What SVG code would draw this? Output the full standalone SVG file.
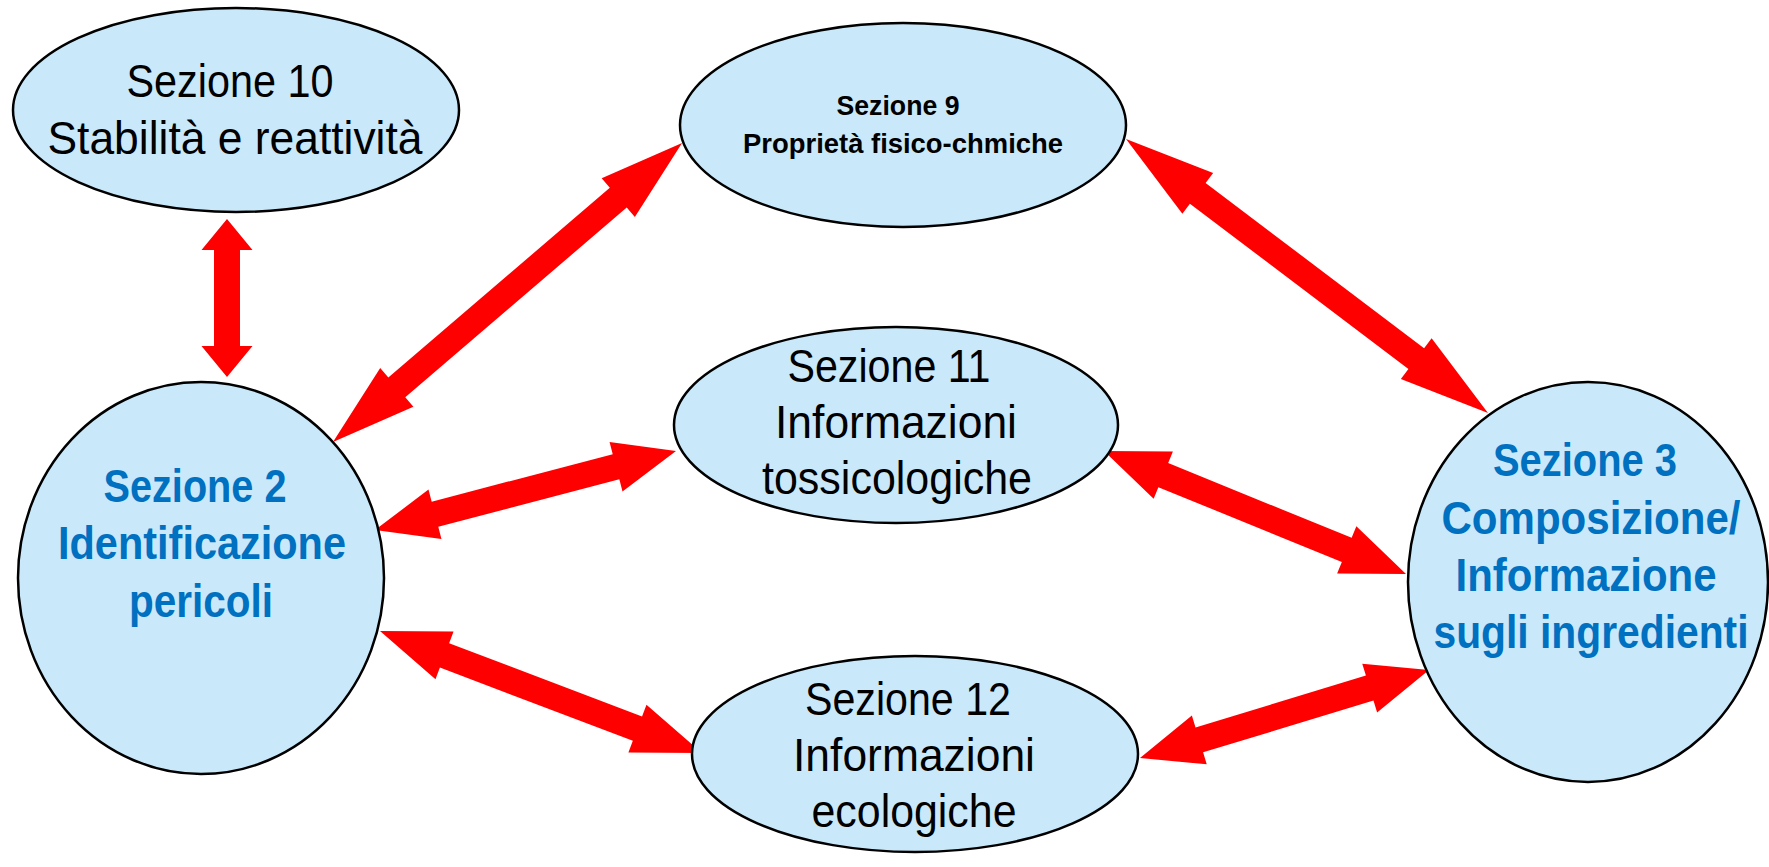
<svg xmlns="http://www.w3.org/2000/svg" width="1769" height="867" viewBox="0 0 1769 867">
<defs>
<style>
.node{fill:#C9E9FA;stroke:#000;stroke-width:2.5}
.t{font-family:"Liberation Sans",Arial,sans-serif;font-size:46px;fill:#000;text-anchor:middle}
.tb{font-family:"Liberation Sans",Arial,sans-serif;font-size:47px;font-weight:bold;fill:#0070C0;text-anchor:middle}
.ts{font-family:"Liberation Sans",Arial,sans-serif;font-size:28px;font-weight:bold;fill:#000;text-anchor:middle}
.arr{fill:#FF0000;stroke:none}
</style>
</defs>
<rect width="1769" height="867" fill="#fff"/>
<g id="connectors">
<polygon class="arr" transform="translate(227,219) rotate(90)" points="0,0 31,-25.5 31,-13 127,-13 127,-25.5 158,0 127,25.5 127,13 31,13 31,25.5"/>
<polygon class="arr" transform="translate(333,442) rotate(-40.58)" points="0,0 84,-25.5 84,-13 375.6,-13 375.6,-25.5 459.6,0 375.6,25.5 375.6,13 84,13 84,25.5"/>
<polygon class="arr" transform="translate(1126,139) rotate(37.12)" points="0,0 90,-25.5 90,-13 364,-13 364,-25.5 454,0 364,25.5 364,13 90,13 90,25.5"/>
<polygon class="arr" transform="translate(375,530) rotate(-14.71)" points="0,0 62,-25.5 62,-13 249.2,-13 249.2,-25.5 311.2,0 249.2,25.5 249.2,13 62,13 62,25.5"/>
<polygon class="arr" transform="translate(1104,451) rotate(22.16)" points="0,0 64,-25.5 64,-13 262.1,-13 262.1,-25.5 326.1,0 262.1,25.5 262.1,13 64,13 64,25.5"/>
<polygon class="arr" transform="translate(380,631) rotate(20.75)" points="0,0 69,-25.5 69,-13 275.3,-13 275.3,-25.5 344.3,0 275.3,25.5 275.3,13 69,13 69,25.5"/>
<polygon class="arr" transform="translate(1140,758) rotate(-16.94)" points="0,0 62,-25.5 62,-13 240.1,-13 240.1,-25.5 302.1,0 240.1,25.5 240.1,13 62,13 62,25.5"/>
</g>
<g id="node-s10">
<ellipse class="node" cx="236" cy="110" rx="223" ry="102"/>
<text class="t" x="230" y="97" textLength="207" lengthAdjust="spacingAndGlyphs">Sezione 10</text>
<text class="t" x="235" y="154" textLength="375" lengthAdjust="spacingAndGlyphs">Stabilità e reattività</text>
</g>
<g id="node-s9">
<ellipse class="node" cx="903" cy="125" rx="223" ry="102"/>
<text class="ts" x="898" y="115" textLength="123" lengthAdjust="spacingAndGlyphs">Sezione 9</text>
<text class="ts" x="903" y="153" textLength="320" lengthAdjust="spacingAndGlyphs">Proprietà fisico-chmiche</text>
</g>
<g id="node-s11">
<ellipse class="node" cx="896" cy="425" rx="222" ry="98"/>
<text class="t" x="889" y="382" textLength="203" lengthAdjust="spacingAndGlyphs">Sezione 11</text>
<text class="t" x="896" y="438" textLength="242" lengthAdjust="spacingAndGlyphs">Informazioni</text>
<text class="t" x="897" y="494" textLength="270" lengthAdjust="spacingAndGlyphs">tossicologiche</text>
</g>
<g id="node-s12">
<ellipse class="node" cx="915" cy="754" rx="223" ry="98"/>
<text class="t" x="908" y="715" textLength="206" lengthAdjust="spacingAndGlyphs">Sezione 12</text>
<text class="t" x="914" y="771" textLength="242" lengthAdjust="spacingAndGlyphs">Informazioni</text>
<text class="t" x="914" y="827" textLength="205" lengthAdjust="spacingAndGlyphs">ecologiche</text>
</g>
<g id="node-s2">
<ellipse class="node" cx="201" cy="578" rx="183" ry="196"/>
<text class="tb" x="195" y="502" textLength="183" lengthAdjust="spacingAndGlyphs">Sezione 2</text>
<text class="tb" x="202" y="559" textLength="288" lengthAdjust="spacingAndGlyphs">Identificazione</text>
<text class="tb" x="201" y="617" textLength="144" lengthAdjust="spacingAndGlyphs">pericoli</text>
</g>
<g id="node-s3">
<ellipse class="node" cx="1588" cy="582" rx="180" ry="200"/>
<text class="tb" x="1585" y="476" textLength="184" lengthAdjust="spacingAndGlyphs">Sezione 3</text>
<text class="tb" x="1591" y="534" textLength="299" lengthAdjust="spacingAndGlyphs">Composizione/</text>
<text class="tb" x="1586" y="591" textLength="261" lengthAdjust="spacingAndGlyphs">Informazione</text>
<text class="tb" x="1591" y="648" textLength="315" lengthAdjust="spacingAndGlyphs">sugli ingredienti</text>
</g>
</svg>
